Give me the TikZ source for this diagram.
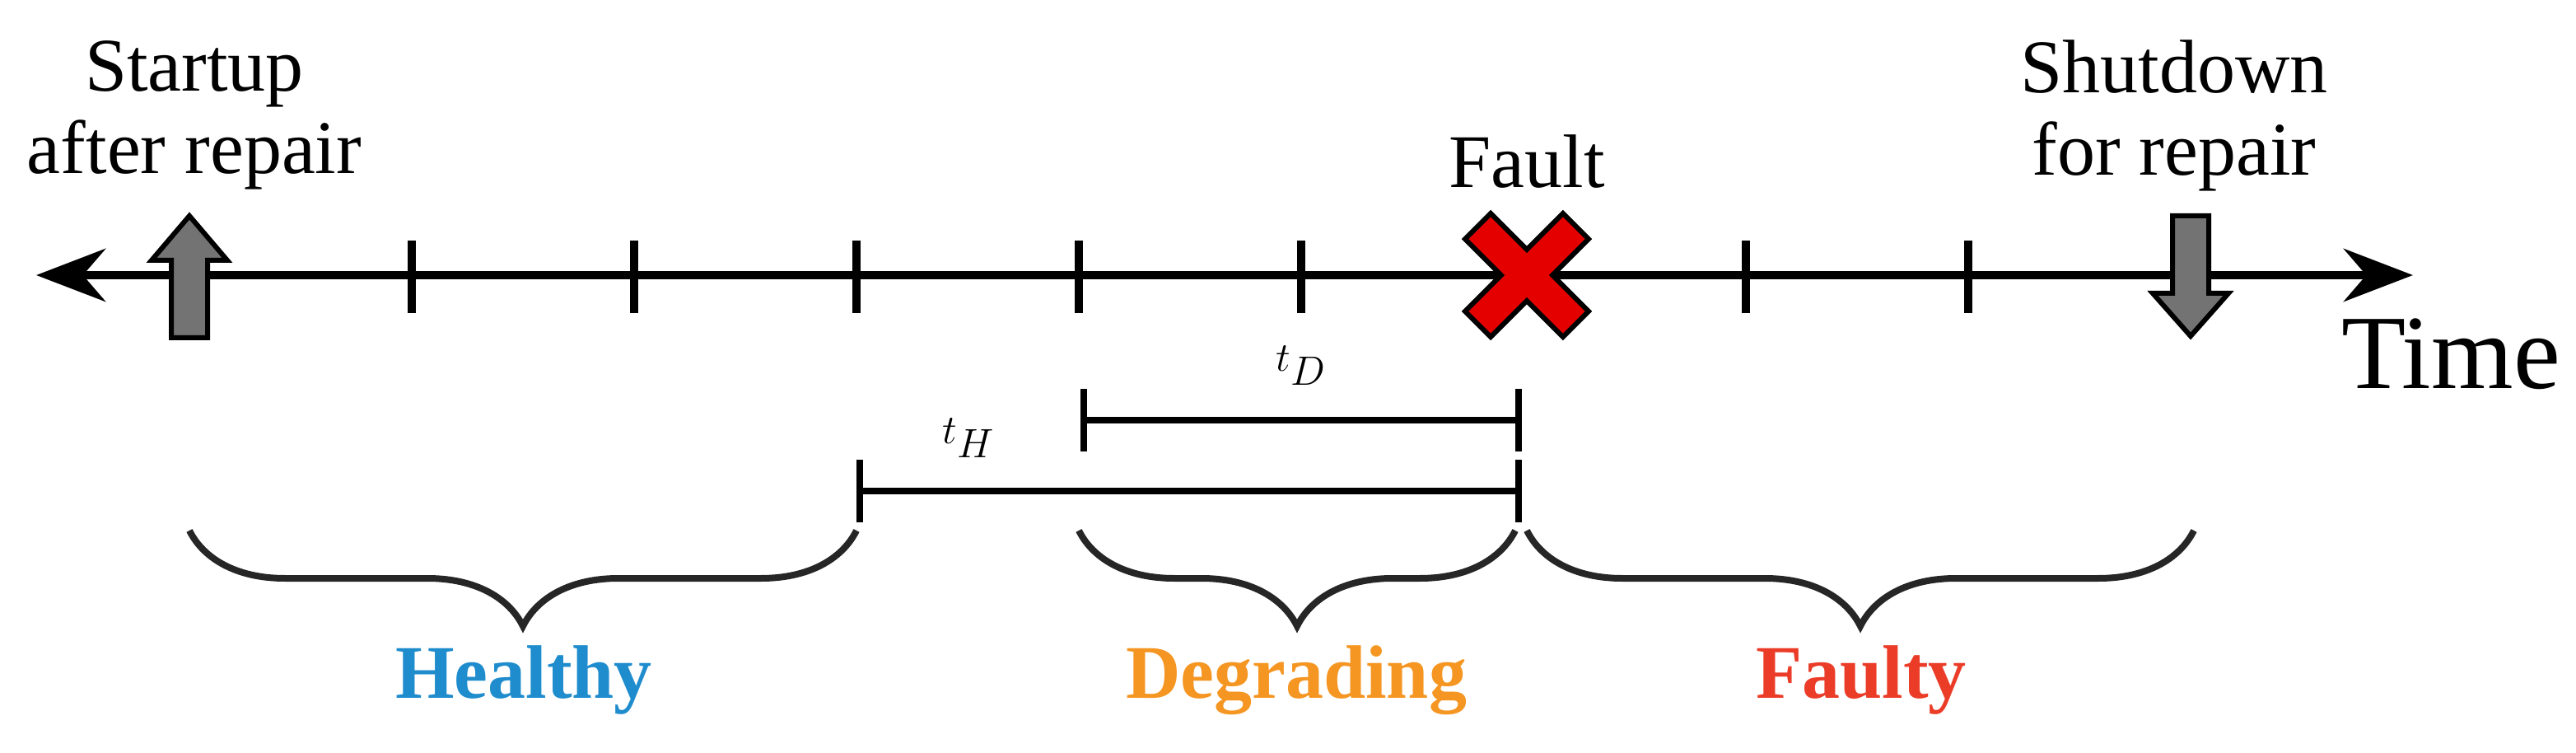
\documentclass[tikz,border=0pt]{standalone}
\usepackage{fontspec}
\setmainfont{Liberation Serif}
\usetikzlibrary{decorations.pathreplacing,arrows.meta}
\begin{document}
\begin{tikzpicture}[x=1pt,y=-1pt,
  lw/.style={line width=5pt},
  tick/.style={line width=5pt},
  br/.style={line width=4pt,color=black!85,decorate,decoration={brace,mirror,amplitude=58pt,aspect=0.5}},
  lab/.style={font=\fontsize{46}{50}\selectfont},
  tl/.style={font=\fontsize{58}{62}\selectfont},
  state/.style={font=\fontsize{46}{50}\selectfont\bfseries},
  blk/.style={fill=black!55,draw=black,line width=3pt,line join=miter}]
\useasboundingbox (0,0) rectangle (1564,457);
\coordinate (L) at (22,167); \coordinate (R) at (1465,167);
\draw[lw,{Stealth[length=42pt,width=32pt]}-{Stealth[length=42pt,width=32pt]}] (L) -- (R);
\foreach \x in {250,385,520,655,790,1060,1195}{\draw[tick] (\x,146) -- (\x,190);}
% up arrow
\draw[blk] (104,205) -- (104,158) -- (92,158) -- (115,131) -- (138,158) -- (126,158) -- (126,205) -- cycle;
% down arrow
\draw[blk] (1319,131) -- (1319,178) -- (1307,178) -- (1330,204) -- (1353,178) -- (1341,178) -- (1341,131) -- cycle;
% red X
\draw[fill=red!90!black,draw=black,line width=3pt,line join=miter,shift={(927,167)},rotate=45]
 (-11,-42) -- (11,-42) -- (11,-11) -- (42,-11) -- (42,11) -- (11,11) -- (11,42) -- (-11,42) -- (-11,11) -- (-42,11) -- (-42,-11) -- (-11,-11) -- cycle;
\node[lab,align=center] (su) at (118,70) {Startup\\after repair};
\node[lab,align=center] (sd) at (1320,70) {Shutdown\\for repair};
\node[lab] (fa) at (927,98) {Fault};
\node[font=\fontsize{64}{68}\selectfont] (ti) at (1488,215) {Time};
% intervals
\draw[line width=4pt] (658,255) -- (922,255);
\draw[line width=4pt] (658,236) -- (658,274) (922,236) -- (922,274);
\node[tl] (td) at (790,222) {$t_{D}$};
\draw[line width=4pt] (522,298) -- (922,298);
\draw[line width=4pt] (522,279) -- (522,317) (922,279) -- (922,317);
\node[tl] (th) at (588,266) {$t_{H}$};
% braces
\draw[br] (115,322) -- (520,322);
\draw[br] (655,322) -- (920,322);
\draw[br] (927,322) -- (1332,322);
\node[state,text={rgb,255:red,30;green,140;blue,205}] (h) at (318,413) {Healthy};
\node[state,text={rgb,255:red,245;green,150;blue,35}] (d) at (787,413) {Degrading};
\node[state,text={rgb,255:red,235;green,60;blue,40}] (f) at (1130,413) {Faulty};
\end{tikzpicture}
\end{document}
